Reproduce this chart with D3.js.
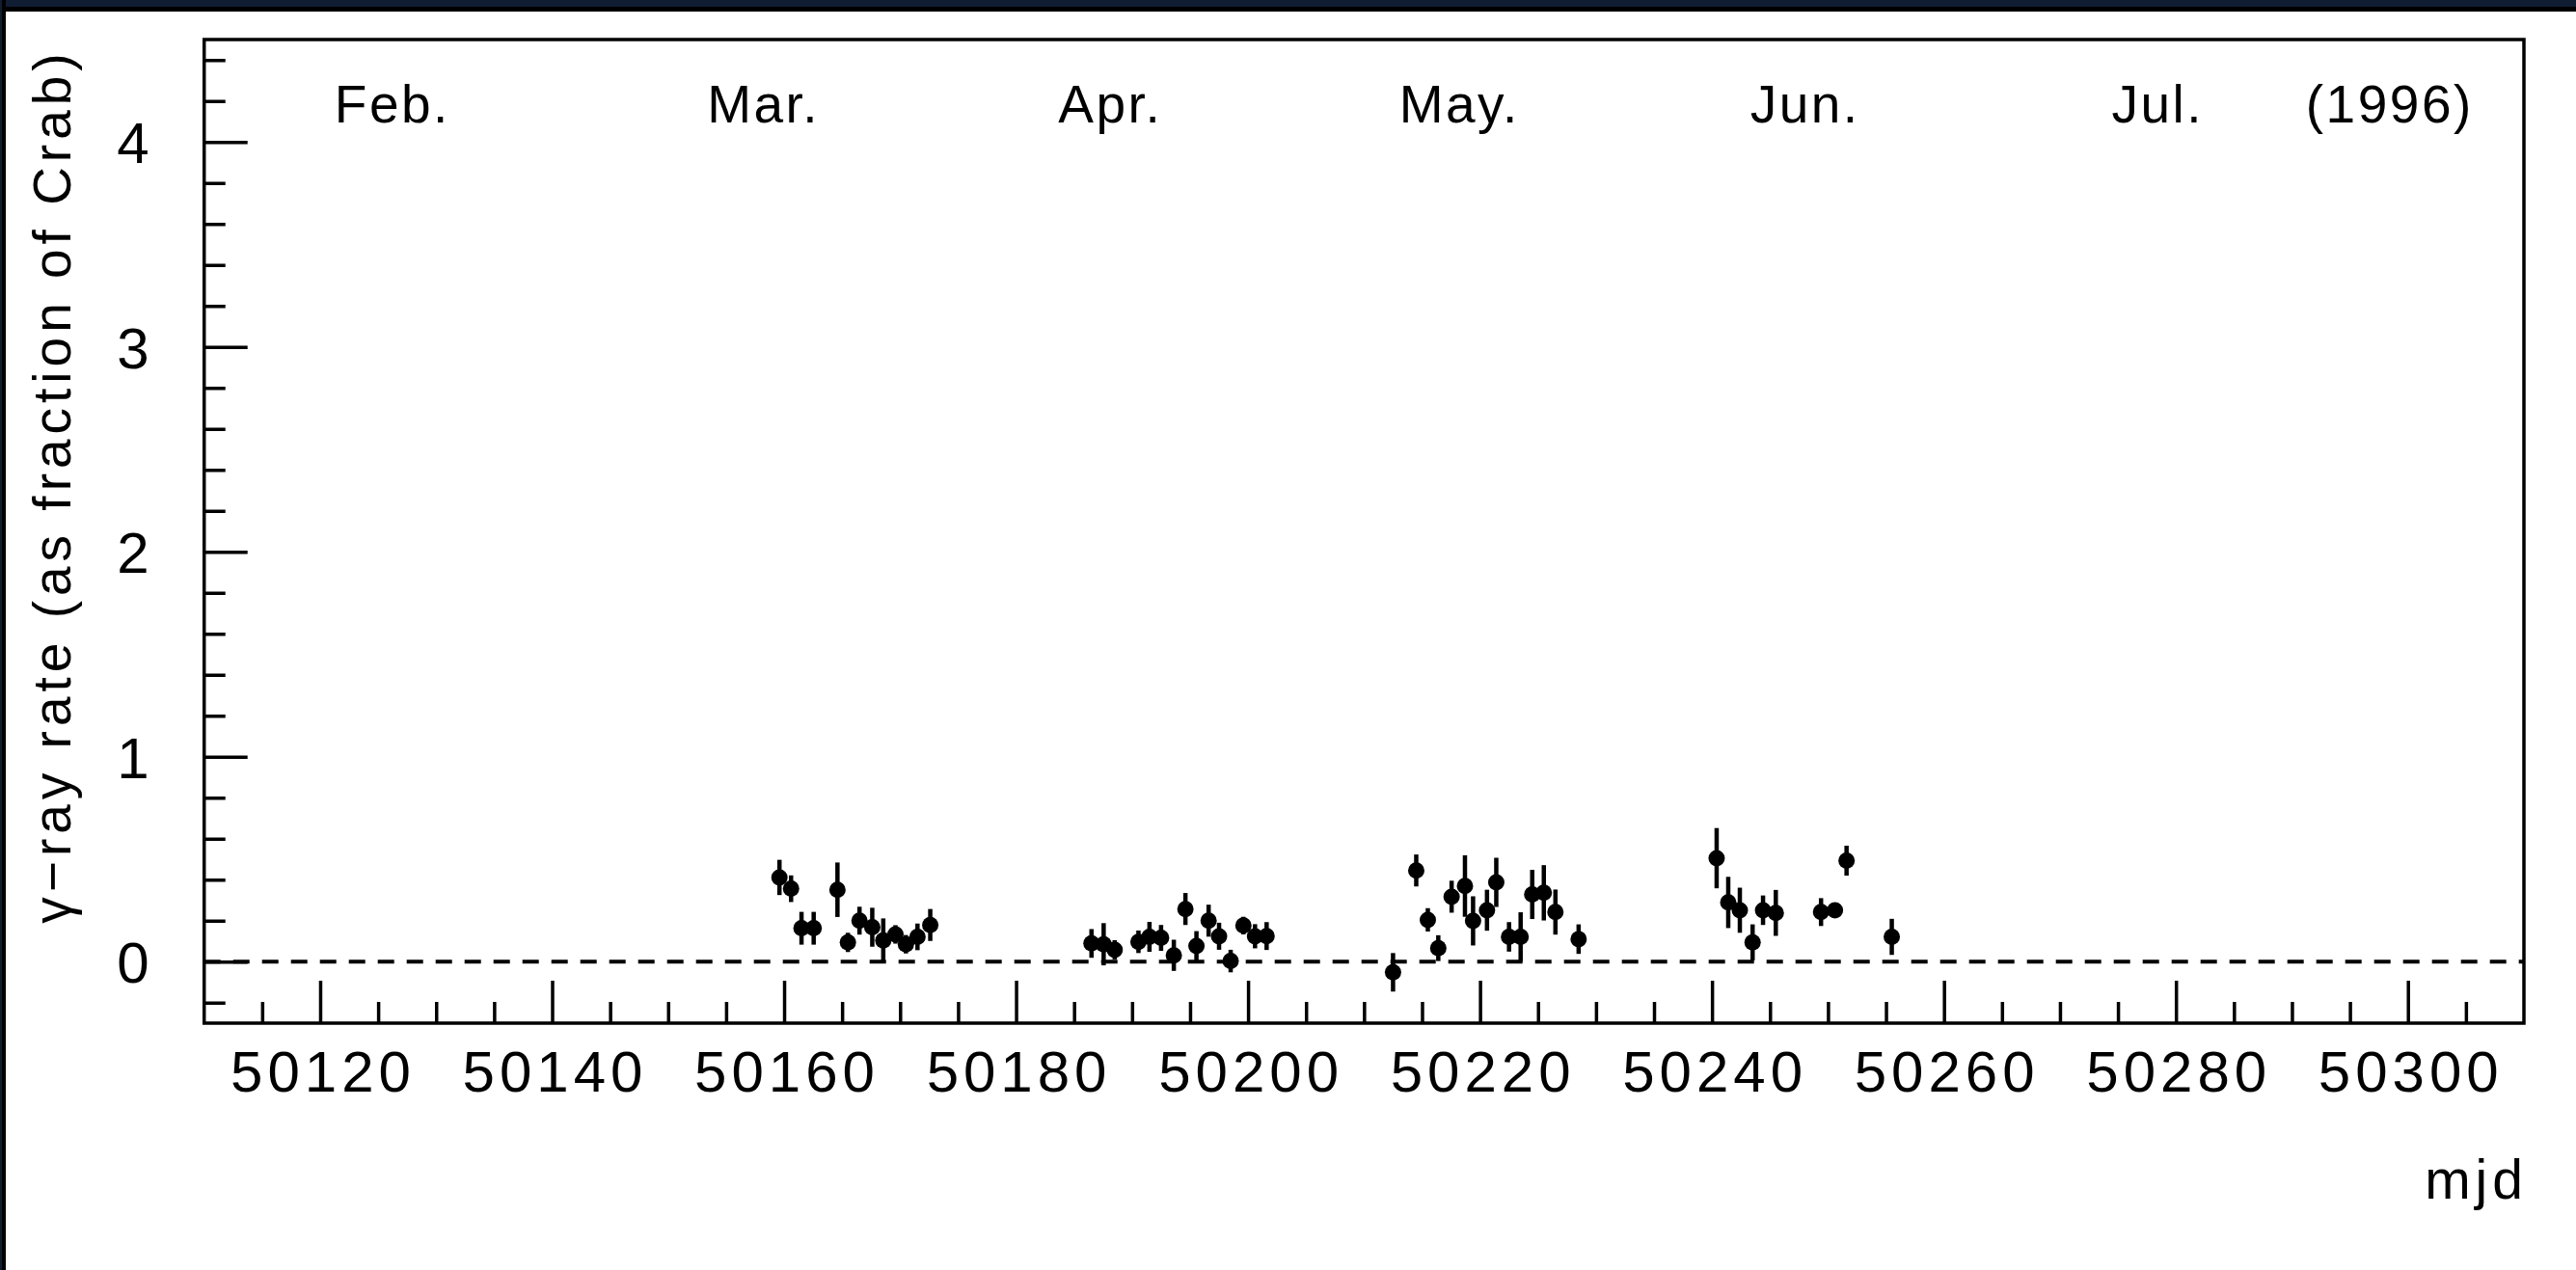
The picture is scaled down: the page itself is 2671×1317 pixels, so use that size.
<!DOCTYPE html>
<html>
<head>
<meta charset="utf-8">
<script src="https://cdn.jsdelivr.net/npm/d3@7"></script>
<style>
  body { margin: 0; background: #fff; }
  svg { display: block; }
  text { font-family: "Liberation Sans", Arial, sans-serif; fill: #000; }
</style>
</head>
<body>
<div id="chart"></div>
<script>
// gamma-ray rate light curve, 1996 (mjd, rate as fraction of Crab, 1 sigma error)
const mjd = [
  50159.6, 50160.6, 50161.5, 50162.55, 50164.6, 50165.5, 50166.5, 50167.6, 50168.55, 50169.6, 50170.5, 50171.5, 50172.6,
  50186.5, 50187.55, 50188.5, 50190.55, 50191.5, 50192.5, 50193.6, 50194.6, 50195.55, 50196.6, 50197.5, 50198.5, 50199.6, 50200.6, 50201.6,
  50212.5, 50214.5, 50215.5, 50216.4, 50217.55, 50218.7, 50219.4, 50220.6, 50221.4, 50222.5, 50223.5, 50224.5, 50225.5, 50226.5, 50228.5,
  50240.4, 50241.4, 50242.4, 50243.5, 50244.4, 50245.5, 50249.4, 50250.6, 50251.6, 50255.5
]
const rate = [
  0.411, 0.356, 0.163, 0.163, 0.351, 0.094, 0.200, 0.168, 0.104, 0.133, 0.085, 0.121, 0.179,
  0.089, 0.085, 0.058, 0.097, 0.121, 0.116, 0.031, 0.257, 0.077, 0.200, 0.124, 0.003, 0.176, 0.124, 0.125,
  -0.052, 0.445, 0.204, 0.066, 0.317, 0.369, 0.199, 0.251, 0.387, 0.121, 0.121, 0.328, 0.336, 0.242, 0.110,
  0.505, 0.289, 0.251, 0.094, 0.251, 0.238, 0.242, 0.251, 0.493, 0.121
]
const rateErr = [
  0.086, 0.065, 0.080, 0.080, 0.133, 0.047, 0.068, 0.095, 0.107, 0.045, 0.045, 0.065, 0.078,
  0.070, 0.103, 0.047, 0.055, 0.073, 0.063, 0.076, 0.078, 0.072, 0.078, 0.066, 0.055, 0.043, 0.059, 0.068,
  0.094, 0.078, 0.057, 0.063, 0.078, 0.150, 0.120, 0.100, 0.120, 0.072, 0.120, 0.120, 0.135, 0.110, 0.072,
  0.147, 0.125, 0.110, 0.088, 0.072, 0.112, 0.068, 0.030, 0.073, 0.088
]

// month labels along the top (mjd position of each label centre)
const monthNames = ["Feb.", "Mar.", "Apr.", "May.", "Jun.", "Jul.", "(1996)"]
const monthMjd = [50126.1, 50158.1, 50188.0, 50218.1, 50247.9, 50278.3, 50298.3]

const xMajorTicks = [50120, 50140, 50160, 50180, 50200, 50220, 50240, 50260, 50280, 50300]
const yMajorTicks = [0, 1, 2, 3, 4]

const width = 2671
const height = 1317
const plotLeft = 211.7, plotRight = 2617, plotTop = 41, plotBottom = 1061

const x = d3.scaleLinear().domain([50110, 50310]).range([plotLeft, plotRight])
const y = d3.scaleLinear().domain([-0.3, 4.5]).range([plotBottom, plotTop])

const svg = d3.select("#chart").append("svg")
  .attr("width", width)
  .attr("height", height)

// page border (dark strip top and left)
svg.append("rect").attr("x", 0).attr("y", 0).attr("width", width).attr("height", 12).attr("fill", "#000")
svg.append("rect").attr("x", 0).attr("y", 0).attr("width", width).attr("height", 7).attr("fill", "#111d33")
svg.append("rect").attr("x", 0).attr("y", 0).attr("width", 6).attr("height", height).attr("fill", "#000")
svg.append("rect").attr("x", 0).attr("y", 0).attr("width", 2).attr("height", height).attr("fill", "#111d33")

// minor ticks
const xMinor = d3.range(50115, 50310, 5).filter(v => v % 20 !== 0)
const yMinor = d3.range(-1, 23).map(v => v / 5).filter(v => !Number.isInteger(v))

// x axis, ticks pointing inward
svg.append("g")
  .attr("transform", `translate(0,${plotBottom})`)
  .call(d3.axisBottom(x).tickValues(xMinor).tickSize(-22).tickFormat(""))
  .call(g => g.select(".domain").remove())
  .call(g => g.selectAll("line").attr("stroke", "#000").attr("stroke-width", 3.5))

svg.append("g")
  .attr("transform", `translate(0,${plotBottom})`)
  .call(d3.axisBottom(x).tickValues(xMajorTicks).tickSize(-44).tickPadding(28).tickFormat(d3.format("d")))
  .call(g => g.select(".domain").remove())
  .call(g => g.selectAll("line").attr("stroke", "#000").attr("stroke-width", 3.5))
  .call(g => g.selectAll("text")
    .attr("fill", "#000")
    .attr("dx", 2.5)
    .style("font-size", "60px")
    .style("letter-spacing", "5px"))

// y axis
svg.append("g")
  .attr("transform", `translate(${plotLeft},0)`)
  .call(d3.axisLeft(y).tickValues(yMinor).tickSize(-22).tickFormat(""))
  .call(g => g.select(".domain").remove())
  .call(g => g.selectAll("line").attr("stroke", "#000").attr("stroke-width", 3.5))

svg.append("g")
  .attr("transform", `translate(${plotLeft},0)`)
  .call(d3.axisLeft(y).tickValues(yMajorTicks).tickSize(-45).tickPadding(57).tickFormat(d3.format("d")))
  .call(g => g.select(".domain").remove())
  .call(g => g.selectAll("line").attr("stroke", "#000").attr("stroke-width", 3.5))
  .call(g => g.selectAll("text")
    .attr("fill", "#000")
    .attr("dy", "0.36em")
    .style("font-size", "60px"))

// zero line
svg.append("line")
  .attr("x1", x.range()[0]).attr("x2", x.range()[1])
  .attr("y1", y(0)).attr("y2", y(0))
  .attr("stroke", "#000")
  .attr("stroke-width", 4)
  .attr("stroke-dasharray", "17 13")

// frame
svg.append("rect")
  .attr("x", plotLeft).attr("y", plotTop)
  .attr("width", plotRight - plotLeft).attr("height", plotBottom - plotTop)
  .attr("fill", "none")
  .attr("stroke", "#000")
  .attr("stroke-width", 3.5)

// error bars + markers
const I = d3.range(mjd.length)
svg.append("g")
  .selectAll("line")
  .data(I)
  .join("line")
  .attr("x1", i => x(mjd[i])).attr("x2", i => x(mjd[i]))
  .attr("y1", i => y(rate[i] - rateErr[i]))
  .attr("y2", i => y(rate[i] + rateErr[i]))
  .attr("stroke", "#000")
  .attr("stroke-width", 4.5)

svg.append("g")
  .selectAll("circle")
  .data(I)
  .join("circle")
  .attr("cx", i => x(mjd[i]))
  .attr("cy", i => y(rate[i]))
  .attr("r", 8.5)
  .attr("fill", "#000")

// months
svg.append("g")
  .selectAll("text")
  .data(monthNames)
  .join("text")
  .attr("x", (d, i) => x(monthMjd[i]) + 1.5)
  .attr("y", 127)
  .attr("text-anchor", "middle")
  .style("font-size", "55px")
  .style("letter-spacing", "2.5px")
  .text(d => d)

// axis titles
svg.append("text")
  .attr("x", plotRight + 4)
  .attr("y", 1243)
  .attr("text-anchor", "end")
  .style("font-size", "57px")
  .style("letter-spacing", "5px")
  .text("mjd")

svg.append("text")
  .attr("transform", `translate(73,${(43 + 965) / 2}) rotate(-90)`)
  .attr("text-anchor", "middle")
  .style("font-size", "55px")
  .style("letter-spacing", "5px")
  .text("γ−ray rate (as fraction of Crab)")
</script>
</body>
</html>
